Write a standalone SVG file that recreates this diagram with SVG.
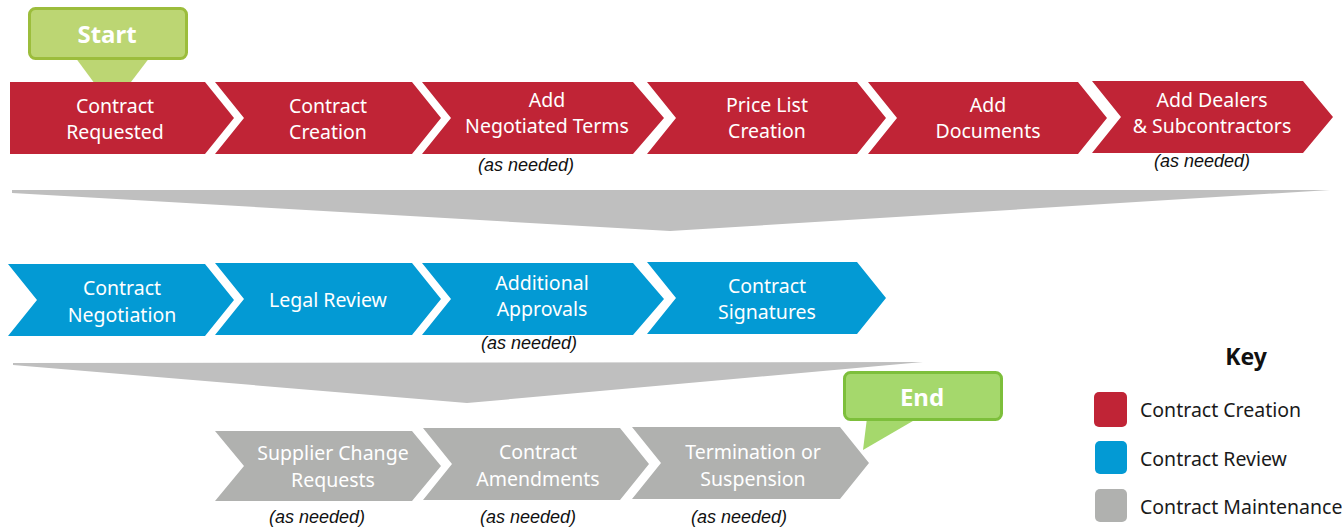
<svg xmlns="http://www.w3.org/2000/svg" width="1342" height="527" viewBox="0 0 1342 527">
<style>
.red{fill:#c02436}
.blue{fill:#039ad4}
.gray{fill:#b0b1af}
.wedge{fill:#bfbfbf}
.lbl{font-family:"Noto Sans","Open Sans",sans-serif;font-size:19.5px;fill:#ffffff;text-anchor:middle}
.note{font-family:"Liberation Sans",Arial,sans-serif;font-size:18px;font-style:italic;fill:#111111;text-anchor:middle}
.cap{font-family:"Noto Sans","Open Sans",sans-serif;font-size:24px;font-weight:bold;fill:#ffffff;text-anchor:middle}
.key{font-family:"Noto Sans","Open Sans",sans-serif;font-size:19.5px;fill:#1a1a1a}
</style>
<rect width="1342" height="527" fill="#ffffff"/>

<g id="connectors">
<polygon class="wedge" points="12,190 1330,190 670,231 12,193"/>
<polygon class="wedge" points="13,363 923,362 467,403 13,365"/>
</g>

<g id="start">
<polygon points="75,57 150,57 112,107" fill="#bcd673"/>
<rect x="29.5" y="8.5" width="157" height="50" rx="6" fill="#bcd673" stroke="#9cbd3c" stroke-width="3"/>
<text class="cap" x="107" y="43">Start</text>
</g>

<g id="n1">
<polygon class="red" points="10,82 205,82 234,118 205,154 10,154"/>
<text class="lbl" x="115" y="113">Contract</text>
<text class="lbl" x="115" y="139">Requested</text>
</g>
<g id="n2">
<polygon class="red" points="215,82 412,82 441,118 412,154 215,154 244,118"/>
<text class="lbl" x="328" y="113">Contract</text>
<text class="lbl" x="328" y="139">Creation</text>
</g>
<g id="n3">
<polygon class="red" points="422,82 633,82 664,118 633,154 422,154 451,118"/>
<text class="lbl" x="547" y="107">Add</text>
<text class="lbl" x="547" y="133">Negotiated Terms</text>
<text class="note" x="526" y="171">(as needed)</text>
</g>
<g id="n4">
<polygon class="red" points="647,82 857,82 886,118 857,154 647,154 676,118"/>
<text class="lbl" x="767" y="112">Price List</text>
<text class="lbl" x="767" y="138">Creation</text>
</g>
<g id="n5">
<polygon class="red" points="868,82 1078,82 1107,118 1078,154 868,154 897,118"/>
<text class="lbl" x="988" y="112">Add</text>
<text class="lbl" x="988" y="138">Documents</text>
</g>
<g id="n6">
<polygon class="red" points="1092,81 1303,81 1333,117 1303,153 1092,153 1121,117"/>
<text class="lbl" x="1212" y="107">Add Dealers</text>
<text class="lbl" x="1212" y="133">&amp; Subcontractors</text>
<text class="note" x="1202" y="167">(as needed)</text>
</g>

<g id="n7">
<polygon class="blue" points="8,264 205,264 234,300 205,336 8,336 37,300"/>
<text class="lbl" x="122" y="295">Contract</text>
<text class="lbl" x="122" y="322">Negotiation</text>
</g>
<g id="n8">
<polygon class="blue" points="215,263 412,263 441,299 412,335 215,335 244,299"/>
<text class="lbl" x="328" y="307">Legal Review</text>
</g>
<g id="n9">
<polygon class="blue" points="422,263 633,263 664,299 633,335 422,335 451,299"/>
<text class="lbl" x="542" y="290">Additional</text>
<text class="lbl" x="542" y="316">Approvals</text>
<text class="note" x="529" y="349">(as needed)</text>
</g>
<g id="n10">
<polygon class="blue" points="647,262 857,262 886,298 857,334 647,334 676,298"/>
<text class="lbl" x="767" y="293">Contract</text>
<text class="lbl" x="767" y="319">Signatures</text>
</g>

<g id="n11">
<polygon class="gray" points="215,431 412,431 441,466 412,501 215,501 244,466"/>
<text class="lbl" x="333" y="460">Supplier Change</text>
<text class="lbl" x="333" y="487">Requests</text>
<text class="note" x="317" y="523">(as needed)</text>
</g>
<g id="n12">
<polygon class="gray" points="423,428 620,428 649,464 620,500 423,500 452,464"/>
<text class="lbl" x="538" y="459">Contract</text>
<text class="lbl" x="538" y="486">Amendments</text>
<text class="note" x="528" y="523">(as needed)</text>
</g>
<g id="n13">
<polygon class="gray" points="632,427 840,427 869,463 840,499 632,499 661,463"/>
<text class="lbl" x="753" y="459">Termination or</text>
<text class="lbl" x="753" y="486">Suspension</text>
<text class="note" x="739" y="523">(as needed)</text>
</g>

<g id="end">
<polygon points="867,418 918,418 863,450" fill="#a5d86c"/>
<rect x="844.5" y="372.5" width="157" height="47" rx="6" fill="#a5d86c" stroke="#7dbf3b" stroke-width="3"/>
<text class="cap" x="922" y="406">End</text>
</g>

<g id="legend">
<text x="1246" y="365" text-anchor="middle" font-family="Noto Sans, Open Sans, sans-serif" font-size="23" font-weight="bold" fill="#111111">Key</text>
<rect x="1094" y="392" width="33" height="35" rx="5" class="red"/>
<text class="key" x="1140" y="417">Contract Creation</text>
<rect x="1095" y="441" width="32" height="33" rx="5" class="blue"/>
<text class="key" x="1140" y="466">Contract Review</text>
<rect x="1095" y="489" width="32" height="33" rx="5" class="gray"/>
<text class="key" x="1140" y="514">Contract Maintenance</text>
</g>
</svg>
